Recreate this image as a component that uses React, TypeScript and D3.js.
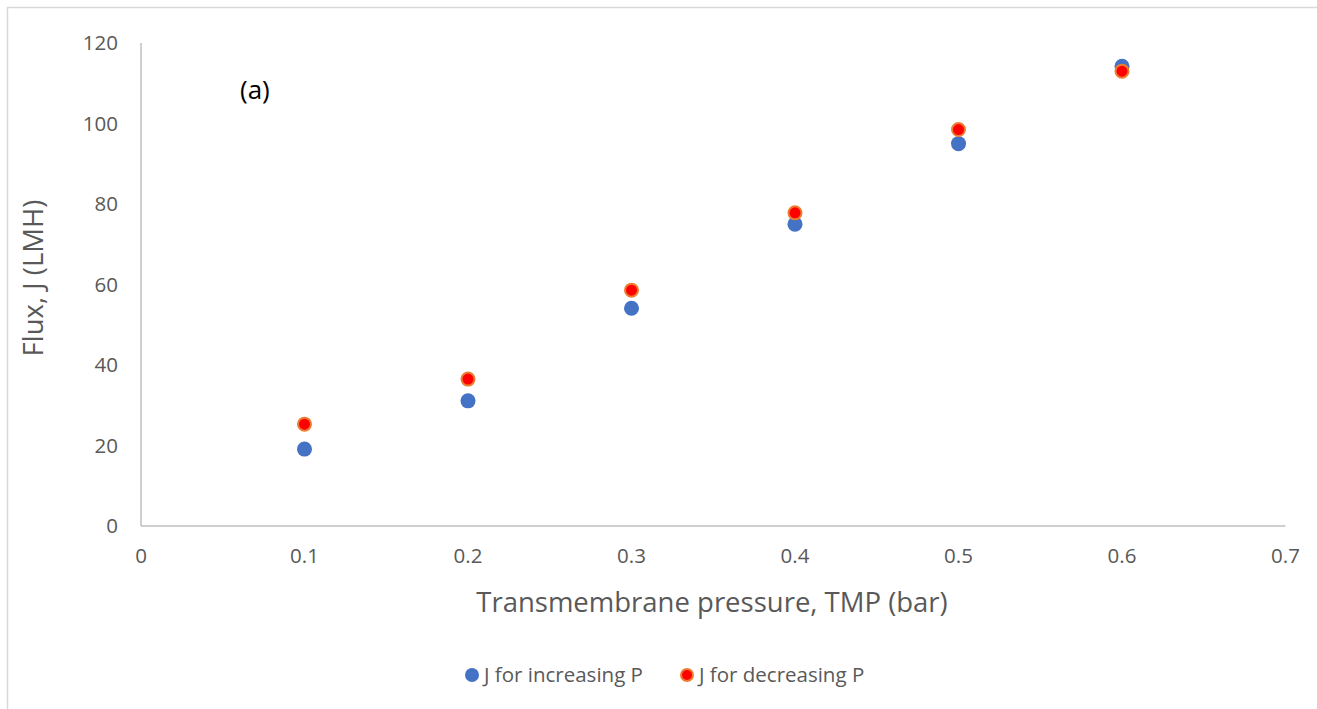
import React, { useEffect, useRef } from "react";
import * as d3 from "d3";

// TMP (bar) values and measured flux (LMH)
const tmp = [0.1, 0.2, 0.3, 0.4, 0.5, 0.6];
const fluxIncreasing = [19.1, 31.1, 54.1, 75.0, 95.0, 114.2];
const fluxDecreasing = [25.3, 36.5, 58.6, 77.8, 98.5, 113.0];

const xTicks = [0, 0.1, 0.2, 0.3, 0.4, 0.5, 0.6, 0.7];
const yTicks = [0, 20, 40, 60, 80, 100, 120];

const seriesNames = ["J for increasing P", "J for decreasing P"];

export default function App() {
  const svgRef = useRef<SVGSVGElement | null>(null);

  useEffect(() => {
    const width = 1317;
    const height = 709;
    const font = "'Open Sans', sans-serif";

    const svg = d3.select(svgRef.current);
    svg.selectAll("*").remove();

    // chart frame
    svg.append("rect")
      .attr("x", 7.5)
      .attr("y", 7.5)
      .attr("width", width)
      .attr("height", height)
      .attr("fill", "white")
      .attr("stroke", "#d9d9d9")
      .attr("stroke-width", 1.5);

    const x = d3.scaleLinear().domain([0, 0.7]).range([141, 1285.5]);
    const y = d3.scaleLinear().domain([0, 120]).range([526, 43]);

    // axis lines
    svg.append("line")
      .attr("x1", x(0)).attr("x2", x(0.7))
      .attr("y1", y(0)).attr("y2", y(0))
      .attr("stroke", "#bfbfbf").attr("stroke-width", 1.5);
    svg.append("line")
      .attr("x1", x(0)).attr("x2", x(0))
      .attr("y1", y(0)).attr("y2", y(120))
      .attr("stroke", "#bfbfbf").attr("stroke-width", 1.5);

    // tick labels
    svg.append("g")
      .selectAll("text")
      .data(xTicks)
      .join("text")
      .attr("x", d => x(d))
      .attr("y", 563)
      .attr("text-anchor", "middle")
      .attr("font-family", font)
      .attr("font-size", 20.5)
      .attr("fill", "#595959")
      .text(d => String(d));

    svg.append("g")
      .selectAll("text")
      .data(yTicks)
      .join("text")
      .attr("x", 118)
      .attr("y", d => y(d))
      .attr("dy", "0.35em")
      .attr("text-anchor", "end")
      .attr("font-family", font)
      .attr("font-size", 20.5)
      .attr("fill", "#595959")
      .text(d => String(d));

    // axis titles
    svg.append("text")
      .attr("x", 712)
      .attr("y", 612)
      .attr("text-anchor", "middle")
      .attr("font-family", font)
      .attr("font-size", 27.5)
      .attr("fill", "#595959")
      .text("Transmembrane pressure, TMP (bar)");

    svg.append("text")
      .attr("transform", "translate(43,278) rotate(-90)")
      .attr("text-anchor", "middle")
      .attr("font-family", font)
      .attr("font-size", 27.5)
      .attr("fill", "#595959")
      .text("Flux, J (LMH)");

    // panel label
    svg.append("text")
      .attr("x", 240)
      .attr("y", 99)
      .attr("font-family", font)
      .attr("font-size", 26)
      .attr("fill", "#000")
      .text("(a)");

    // data points
    svg.append("g")
      .selectAll("circle")
      .data(tmp.map((t, i) => [t, fluxIncreasing[i]]))
      .join("circle")
      .attr("cx", d => x(d[0]))
      .attr("cy", d => y(d[1]))
      .attr("r", 7.5)
      .attr("fill", "#4472c4");

    svg.append("g")
      .selectAll("circle")
      .data(tmp.map((t, i) => [t, fluxDecreasing[i]]))
      .join("circle")
      .attr("cx", d => x(d[0]))
      .attr("cy", d => y(d[1]))
      .attr("r", 6.5)
      .attr("fill", "#ff0000")
      .attr("stroke", "#ed7d31")
      .attr("stroke-width", 2);

    // legend
    const legend = [
      { name: seriesNames[0], x: 472, fill: "#4472c4", stroke: "none" },
      { name: seriesNames[1], x: 687, fill: "#ff0000", stroke: "#ed7d31" },
    ];
    const lg = svg.append("g").selectAll("g").data(legend).join("g");
    lg.append("circle")
      .attr("cx", d => d.x)
      .attr("cy", 675)
      .attr("r", d => (d.stroke === "none" ? 7 : 6))
      .attr("fill", d => d.fill)
      .attr("stroke", d => d.stroke)
      .attr("stroke-width", 2);
    lg.append("text")
      .attr("x", d => d.x + 12)
      .attr("y", 675)
      .attr("dy", "0.35em")
      .attr("font-family", font)
      .attr("font-size", 20.5)
      .attr("fill", "#595959")
      .text(d => d.name);
  }, []);

  return (
    <div style={{ position: "absolute", left: 0, top: 0 }}>
      <svg ref={svgRef} width={1317} height={709} style={{ display: "block" }} />
    </div>
  );
}
